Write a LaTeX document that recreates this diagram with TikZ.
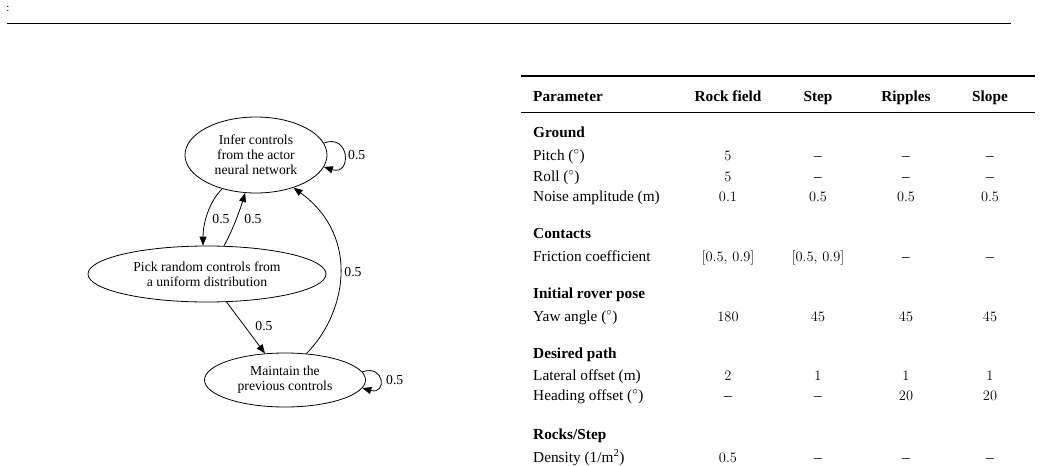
\documentclass[tikz,border=0pt]{standalone}
\usepackage[no-math]{fontspec}
\setmainfont{Liberation Serif}
\usetikzlibrary{arrows.meta,shapes.geometric}
\newcommand{\tabfont}{\fontsize{15.3}{18}\selectfont}
\newcommand{\grfont}{\fontsize{13.7}{15}\selectfont}
\tikzset{
  tl/.style={anchor=base west, inner sep=0pt, font=\tabfont},
  tv/.style={anchor=base, inner sep=0pt, font=\tabfont},
  th/.style={anchor=base, inner sep=0pt, font=\tabfont\bfseries},
  ts/.style={anchor=base west, inner sep=0pt, font=\tabfont\bfseries},
  state/.style={ellipse, draw, line width=0.8pt, inner sep=0pt, align=center, font=\grfont},
  edge/.style={line width=0.8pt, -{Triangle[length=9pt,width=7pt]}},
  elabel/.style={inner sep=0pt, font=\grfont},
  rule/.style={line width=#1},
}
\newcommand{\tabrow}[7]{%
  \node[tl] (#1-0) at (533,#2+5) {#3};
  \node[tv] (#1-1) at (728,#2+5) {#4};
  \node[tv] (#1-2) at (818,#2+5) {#5};
  \node[tv] (#1-3) at (906,#2+5) {#6};
  \node[tv] (#1-4) at (990,#2+5) {#7};
}
\begin{document}
\begin{tikzpicture}[x=1pt,y=-1pt]
\useasboundingbox (0,0) rectangle (1042,466);
% top of page
\node[inner sep=0pt, font=\fontsize{11}{12}\selectfont] (colon) at (8,9) {:};
\coordinate (pl) at (7,23);
\coordinate (pr) at (1011,23);
\draw[rule=0.8pt] (pl) -- (pr);

% ---------- graph ----------
\node[state, minimum width=142pt, minimum height=76pt] (n1) at (256,155)
  {Infer controls\\from the actor\\neural network};
\node[state, minimum width=238pt, minimum height=56pt] (n2) at (207,274)
  {Pick random controls from\\a uniform distribution};
\node[state, minimum width=161pt, minimum height=54pt] (n3) at (285,380)
  {Maintain the\\previous controls};

\draw[edge] (n1.10) .. controls (350,133) and (352,176) .. (n1.350);
\node[elabel, anchor=west] (l11) at (348,155) {0.5};

\draw[edge] (n1.225) .. controls (208,203) and (203,225) .. (n2.98);
\node[elabel] (l12) at (221,219) {0.5};

\draw[edge] (n2.59) .. controls (232,232) and (240,210) .. (n1.254);
\node[elabel] (l21) at (253,219) {0.5};

\draw[edge] (n2.305) -- (n3.127);
\node[elabel] (l23) at (264,326) {0.5};

\draw[edge] (n3.51) .. controls (345,315) and (362,238) .. (n1.319);
\node[elabel] (l31) at (353,272) {0.5};

\draw[edge] (n3.6) .. controls (385,364) and (387,395) .. (n3.354);
\node[elabel, anchor=west] (l33) at (386,380) {0.5};

% ---------- table ----------
\coordinate (tr1l) at (521,76);
\coordinate (tr1r) at (1035,76);
\draw[rule=1.3pt] (tr1l) -- (tr1r);
\coordinate (tr2l) at (521,112);
\coordinate (tr2r) at (1035,112);
\draw[rule=0.6pt] (tr2l) -- (tr2r);

\node[ts] (h0) at (533,101) {Parameter};
\node[th] (h1) at (728,101) {Rock field};
\node[th] (h2) at (818,101) {Step};
\node[th] (h3) at (906,101) {Ripples};
\node[th] (h4) at (990,101) {Slope};

\node[ts] (s1) at (533,137) {Ground};
\tabrow{pitch}{155}{Pitch ($^\circ$)}{$5$}{–}{–}{–}
\tabrow{roll}{176}{Roll ($^\circ$)}{$5$}{–}{–}{–}
\tabrow{noise}{196}{Noise amplitude (m)}{$0.1$}{$0.5$}{$0.5$}{$0.5$}

\node[ts] (s2) at (533,238) {Contacts};
\tabrow{fric}{256}{Friction coefficient}{$[0.5,\,0.9]$}{$[0.5,\,0.9]$}{–}{–}

\node[ts] (s3) at (533,298) {Initial rover pose};
\tabrow{yaw}{316}{Yaw angle ($^\circ$)}{$180$}{$45$}{$45$}{$45$}

\node[ts] (s4) at (533,358) {Desired path};
\tabrow{lat}{375}{Lateral offset (m)}{$2$}{$1$}{$1$}{$1$}
\tabrow{head}{395}{Heading offset ($^\circ$)}{–}{–}{$20$}{$20$}

\node[ts] (s5) at (533,439) {Rocks/Step};
\tabrow{dens}{457}{Density (1/m\textsuperscript{2})}{$0.5$}{–}{–}{–}
\end{tikzpicture}
\end{document}
